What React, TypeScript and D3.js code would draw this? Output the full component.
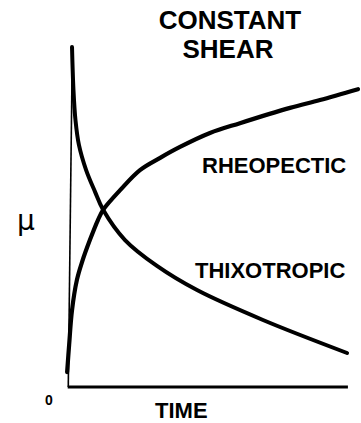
import React from "react";
import * as d3 from "d3";

const thixoTime = [0.7, 1.2, 1.9, 3.1, 5.6, 8.7, 11.5, 19.1, 30.2, 44.1, 67.0, 96.2];
const thixoMu = [100, 87.4, 78.5, 71.2, 63.8, 57.4, 52.1, 43.2, 35.6, 28.5, 19.7, 10.0];

const rheoTime = [-1.0, -0.3, 0.7, 2.4, 4.2, 6.9, 9.7, 11.5, 17.4, 24.3, 31.3, 38.2, 48.6, 59.0, 76.4, 86.8, 100];
const rheoMu = [4.4, 12.4, 22.6, 31.5, 36.8, 43.2, 49.1, 52.1, 57.9, 63.8, 67.4, 70.6, 74.7, 77.6, 82.1, 84.4, 87.6];

const titleLines = ["CONSTANT", "SHEAR"];
const seriesLabels = ["RHEOPECTIC", "THIXOTROPIC"];
const xLabel = "TIME";
const yLabel = "\u03bc";
const originLabel = "0";

export default function App() {
  const W = 361;
  const H = 423;
  const x = d3.scaleLinear().domain([0, 100]).range([70, 358]);
  const y = d3.scaleLinear().domain([0, 100]).range([387, 47]);

  const line = d3
    .line<[number, number]>()
    .x((d) => x(d[0]))
    .y((d) => y(d[1]))
    .curve(d3.curveCatmullRom.alpha(0.5));

  const thixo: [number, number][] = thixoTime.map((t, i) => [t, thixoMu[i]]);
  const rheo: [number, number][] = rheoTime.map((t, i) => [t, rheoMu[i]]);

  const font = "'Liberation Sans', Arial, sans-serif";

  return (
    <svg
      width={W}
      height={H}
      style={{ position: "absolute", left: 0, top: 0, background: "#fff" }}
    >
      <rect width={W} height={H} fill="#fff" />
      {/* axes */}
      <line x1={x(0.8)} y1={y(99)} x2={x(-0.6)} y2={y(0)} stroke="#000" strokeWidth={1.6} />
      <line x1={x(-0.8)} y1={y(0)} x2={x(96.5)} y2={y(0)} stroke="#000" strokeWidth={3} />
      {/* curves */}
      <path d={line(thixo) || ""} fill="none" stroke="#000" strokeWidth={4} strokeLinecap="round" />
      <path d={line(rheo) || ""} fill="none" stroke="#000" strokeWidth={4.2} strokeLinecap="round" />
      {/* title */}
      <text x={230} y={29} textAnchor="middle" fontFamily={font} fontWeight="bold" fontSize={26}>
        {titleLines[0]}
      </text>
      <text x={228} y={58} textAnchor="middle" fontFamily={font} fontWeight="bold" fontSize={26}>
        {titleLines[1]}
      </text>
      {/* series labels */}
      <text x={202} y={173} fontFamily={font} fontWeight="bold" fontSize={22}>
        {seriesLabels[0]}
      </text>
      <text x={195} y={278} fontFamily={font} fontWeight="bold" fontSize={22}>
        {seriesLabels[1]}
      </text>
      {/* axis labels */}
      <text x={155} y={418} fontFamily={font} fontWeight="bold" fontSize={22}>
        {xLabel}
      </text>
      <text x={49} y={405} textAnchor="middle" fontFamily={font} fontWeight="bold" fontSize={14}>
        {originLabel}
      </text>
      <text x={17} y={230} fontFamily="'DejaVu Sans', sans-serif" fontSize={28}>
        {yLabel}
      </text>
    </svg>
  );
}
